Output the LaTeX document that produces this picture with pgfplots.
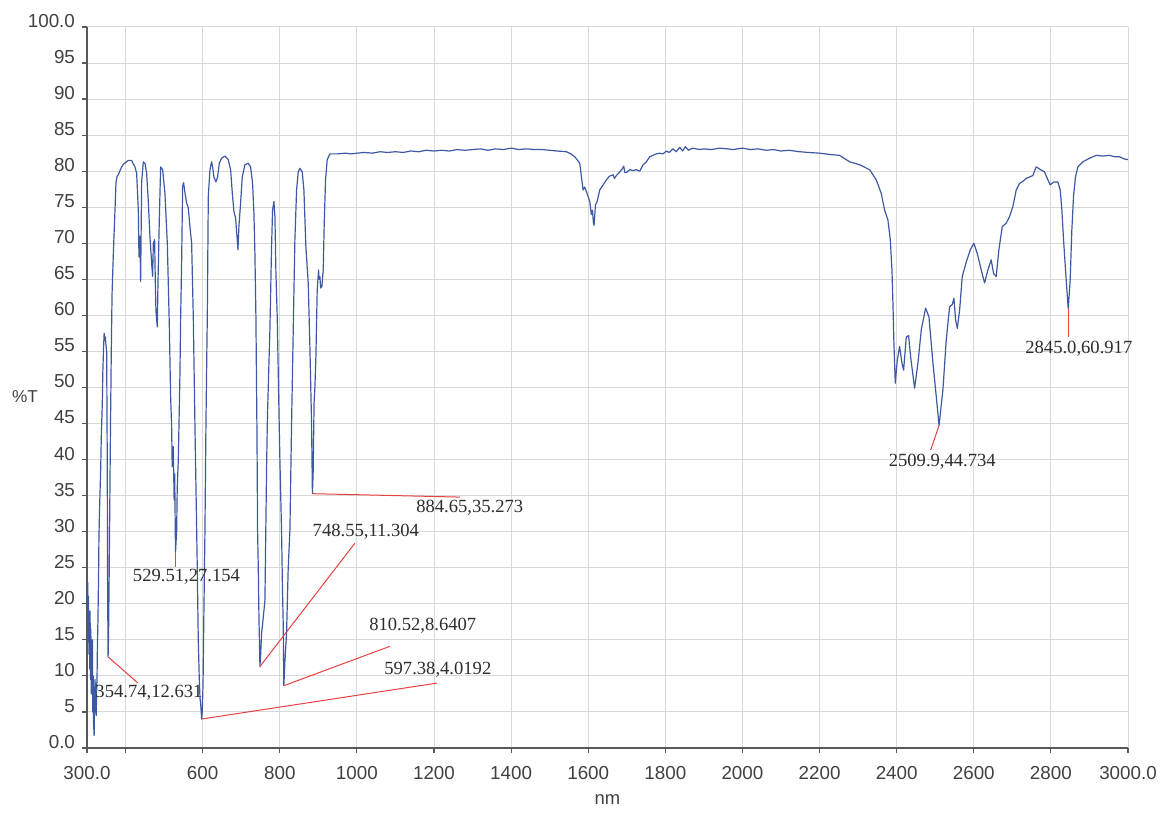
\documentclass[border=0pt]{standalone}
\usepackage{fontspec}
\setmainfont{Liberation Serif}
\setsansfont{Liberation Sans}
\usepackage{pgfplots}
\pgfplotsset{compat=1.18}
\definecolor{spec}{RGB}{61,89,163}
\definecolor{ann}{RGB}{232,64,64}
\definecolor{gridc}{RGB}{217,217,217}
\definecolor{axc}{RGB}{89,89,89}
\definecolor{tickc}{RGB}{64,64,64}
\definecolor{anntext}{RGB}{45,45,45}
\begin{document}
\begin{tikzpicture}
\useasboundingbox (-43.5pt,-32.5pt) rectangle (539.5pt,374pt);
\begin{axis}[
  scale only axis, width=520.5pt, height=360.5pt,
  xmin=300, xmax=3000, ymin=0, ymax=100,
  axis lines*=left,
  axis line style={-, draw=axc, line width=0.75pt},
  grid=major,
  major grid style={draw=gridc, line width=0.5pt},
  xtick={300,400,600,800,1000,1200,1400,1600,1800,2000,2200,2400,2600,2800,3000},
  xticklabels={300.0,,600,800,1000,1200,1400,1600,1800,2000,2200,2400,2600,2800,3000.0},
  ytick={0,5,10,15,20,25,30,35,40,45,50,55,60,65,70,75,80,85,90,95,100},
  yticklabels={0.0,5,10,15,20,25,30,35,40,45,50,55,60,65,70,75,80,85,90,95,100.0},
  tick align=outside,
  major tick length=2.5pt,
  tick style={draw=axc, line width=0.6pt},
  tick label style={font=\sffamily\fontsize{9.4}{10}\selectfont, text=tickc},
  xticklabel style={yshift=-3pt},
  yticklabel style={yshift=3pt},
  every axis x label/.style={at={(rel axis cs:0.5,0)}, anchor=center, yshift=-26pt},
  every axis y label/.style={at={(rel axis cs:0,0.487)}, anchor=center, xshift=-31pt},
  xlabel={\sffamily\fontsize{9.2}{10}\selectfont\color{tickc}nm},
  ylabel={\sffamily\fontsize{8.6}{10}\selectfont\color{tickc}\%T},
  clip mode=individual,
]
\addplot[spec, line width=0.6pt, line join=round] table {
x y
300 22.9
301 19.0
302 23.0
303 17.5
304 21.0
305 13.0
306 18.5
307 11.0
308 19.0
309 9.5
310 16.5
311 7.5
312 14.0
313 9.0
314 15.0
315 5.0
316 10.0
317 3.5
318.5 1.7
320 8.0
321 9.5
322 5.0
323 9.0
324 4.5
325 8.0
326 9.5
327 14.0
328.5 18.0
330 24.0
331 29.3
333 34.0
335.5 38.6
337 43.0
339.7 47.8
341 52.0
343 55.6
344.5 57.5
346 56.5
347.5 57.0
349 56.0
351 55.0
352.5 40.0
353.5 22.0
354.74 12.631
356 16.0
357.5 24.0
359 33.0
361 45.0
363 55.0
365 63.0
368 68.0
370 71.0
372.6 74.6
375.2 78.4
378 79.3
381.2 79.5
385 80.0
389.9 80.6
395 81.0
400 81.2
407.2 81.5
412 81.5
415.8 81.5
420 81.0
424.4 80.6
428.8 79.7
433.1 74.6
434.8 68.1
437.4 70.9
439.1 64.7
441.7 78.4
446 81.3
450.4 81.1
454.7 79.7
459 75.8
463.3 70.9
467.7 67.2
470.2 65.4
472 70.0
475.4 70.5
477.1 64.9
478.9 60.5
482.3 58.4
484.1 64.5
487.5 73.2
491 80.6
496.2 80.2
502.2 76.9
508.3 70.0
513.4 58.9
516.9 48.7
519.5 44.6
521 39.0
523.8 41.8
526 34.4
527.5 38.0
529.51 27.154
532.5 30.0
534 36.0
536.8 40.0
539 46.0
541.1 52.0
543 60.0
545.4 67.2
548 77.9
550.6 78.4
554.1 77.0
558.4 75.6
562.7 74.9
567 72.3
571.4 70.0
575.7 59.8
580 44.6
583 35.0
586 25.0
588.6 15.0
591 10.0
593 7.0
595 6.0
597.38 4.0192
599 5.0
601 9.0
603 18.0
605.9 30.0
608.5 45.0
612 59.8
614.6 76.5
618.9 80.2
623.2 81.3
625.8 80.6
629.2 79.2
634.4 78.5
638.8 79.2
643.1 81.1
649.1 81.8
657.8 82.1
666.4 81.6
672.5 80.2
676.8 77.0
681.1 74.4
685.4 73.5
689.7 70.5
691.5 69.1
694 72.3
698.4 75.6
702.7 79.2
709.6 80.9
718.2 81.1
724.3 80.6
729.5 78.3
732.9 74.2
735.5 68.6
738.1 59.8
740.7 44.6
742.5 30.0
744.2 25.1
746 18.0
748.55 11.304
750.5 13.0
752.8 15.9
757 18.0
761.5 20.5
765.8 39.0
768 46.0
770.1 50.0
774.4 58.0
778.7 69.5
781.3 74.6
784.8 75.8
787.4 73.7
790 65.9
793.4 59.8
798.6 44.6
800.3 40.0
804.7 29.8
807 22.0
809 17.0
810.52 8.6407
813.3 12.0
817.6 15.9
821.9 25.0
826.3 30.2
830.6 45.0
834.9 58.0
839.2 70.5
843.6 77.4
847.9 79.9
852.2 80.4
858.2 79.9
862.6 77.4
867.7 69.5
873.8 64.5
878.1 55.7
882.4 45.1
884.65 35.273
886.5 38.0
889 48.0
891.1 50.0
893.7 54.3
897.1 63.5
900.6 66.3
902 65.0
904 65.4
906 63.8
909.2 64.0
912.7 66.3
915.3 72.8
918.7 78.8
923 81.6
930 82.4
950 82.4
970 82.5
985 82.4
1000 82.5
1020 82.6
1040 82.5
1060 82.7
1080 82.6
1100 82.7
1120 82.6
1140 82.8
1160 82.7
1180 82.9
1200 82.8
1220 82.9
1240 82.8
1260 83.0
1280 82.9
1300 83.0
1320 83.1
1340 82.9
1360 83.1
1380 83.0
1400 83.2
1420 83.0
1440 83.1
1460 83.0
1480 83.0
1500 82.9
1520 82.8
1543.5 82.7
1555 82.4
1565.1 82.0
1578.1 81.1
1582.4 79.2
1586.7 77.4
1591 77.8
1597.1 76.9
1604 75.8
1608 74.0
1610.9 74.6
1613.5 72.8
1615.2 72.5
1618.7 75.3
1623 75.8
1629.9 77.4
1638.6 78.1
1647.2 78.8
1655 79.3
1664.5 79.5
1668 79.0
1673.1 79.4
1681.8 79.9
1688 80.3
1692.1 80.7
1695 79.8
1699 79.8
1707.7 80.2
1716 80.1
1725 80.2
1733.6 80.0
1742.3 80.9
1750.9 81.3
1759.5 82.0
1768 82.2
1776.8 82.4
1785 82.5
1794.1 82.4
1802.7 82.8
1810 82.6
1820 83.1
1828 82.7
1837.3 83.3
1845 82.8
1852 83.4
1860 82.9
1870 83.2
1889.2 83.0
1900 83.1
1920 83.0
1940 83.2
1960 83.1
1975.6 83.0
2000 83.2
2020 83.0
2040 83.1
2062 82.9
2080 83.0
2100 82.8
2120 82.9
2148.4 82.7
2170 82.6
2200 82.5
2230 82.3
2252 82.2
2278 81.3
2303.9 80.9
2329.8 80.2
2347.1 78.8
2360.1 76.9
2368.7 74.6
2377.4 73.2
2383.4 70.5
2387.8 66.3
2390.3 61.7
2392.9 56.1
2396.4 50.6
2401.6 53.8
2407.6 55.7
2413.7 53.4
2418 52.4
2424.9 57.0
2431 57.2
2436.1 54.3
2446.5 49.9
2455.2 53.4
2463.8 58.0
2475 61.0
2483.7 59.8
2494.1 53.4
2504.4 47.8
2509.9 44.734
2520 49.7
2528.6 56.6
2537.3 61.2
2544.2 61.5
2548.5 62.4
2552.8 59.4
2557.2 58.2
2563.2 60.7
2570.1 65.4
2580.5 67.4
2590.9 69.1
2600.3 70.0
2609 68.6
2619.3 66.3
2628 64.5
2636.6 66.3
2645.2 67.7
2651.3 65.8
2658.2 65.4
2665.1 69.1
2673.8 72.3
2684.2 72.8
2692.8 73.7
2701.5 75.1
2710.1 77.4
2718.7 78.3
2727.4 78.6
2736 79.0
2744.7 79.2
2753.3 79.4
2761.9 80.6
2770.6 80.3
2783.5 79.9
2792.2 78.8
2798.2 78.1
2806.9 78.5
2818.1 78.5
2824.2 77.4
2828.5 74.6
2832.8 70.5
2838 66.3
2841.5 63.5
2845.0 60.917
2850 64.9
2854.3 71.8
2858.7 76.5
2863.8 79.2
2869.9 80.6
2882.9 81.3
2900.2 81.8
2917.5 82.2
2935 82.1
2952 82.2
2965 82.0
2978 82.0
2990 81.7
3000 81.6
};
% peak annotations
\begin{scope}[ann, line width=0.5pt]
\draw (axis cs:354.74,12.631) -- (axis cs:432.2,9.0);
\draw (axis cs:529.51,27.154) -- (axis cs:529.51,25.1);
\draw (axis cs:597.38,4.0192) -- (axis cs:1207.3,9.0);
\draw (axis cs:810.52,8.6407) -- (axis cs:1085.5,14.1);
\draw (axis cs:748.55,11.304) -- (axis cs:994.8,28.4);
\draw (axis cs:884.65,35.273) -- (axis cs:1267,34.8);
\draw (axis cs:2509.9,44.734) -- (axis cs:2488,41.3);
\draw (axis cs:2845.0,60.917) -- (axis cs:2845.0,57.05);
\end{scope}
\begin{scope}[every node/.style={font=\fontsize{9.3}{10}\selectfont, text=anntext, inner sep=0pt}]
\node at (axis cs:460.7,7.6) {354.74,12.631};
\node at (axis cs:558,23.7) {529.51,27.154};
\node at (axis cs:1210,10.8) {597.38,4.0192};
\node at (axis cs:1171,16.9) {810.52,8.6407};
\node at (axis cs:1023.3,30.0) {748.55,11.304};
\node at (axis cs:1292.9,33.3) {884.65,35.273};
\node at (axis cs:2518.3,39.7) {2509.9,44.734};
\node at (axis cs:2872.5,55.4) {2845.0,60.917};
\end{scope}
\end{axis}
\end{tikzpicture}
\end{document}
